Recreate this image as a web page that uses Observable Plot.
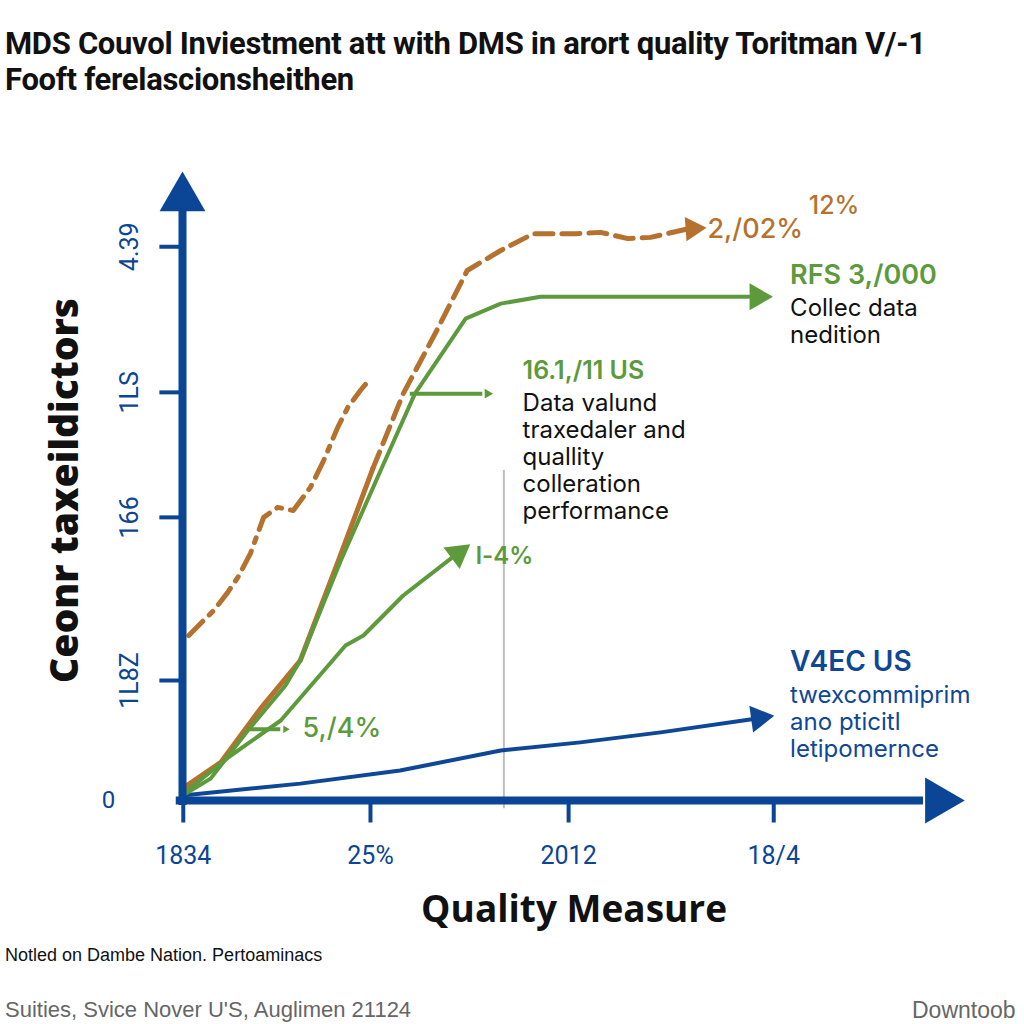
<!DOCTYPE html>
<html>
<head>
<meta charset="utf-8">
<script src="https://cdn.jsdelivr.net/npm/d3@7"></script>
<script src="https://cdn.jsdelivr.net/npm/@observablehq/plot@0.6"></script>
<style>
  body { margin: 0; background: #fff; width: 1024px; height: 1024px; position: relative; overflow: hidden; }
  #title { position: absolute; left: 5px; top: 26px; font: 700 31px Roboto, sans-serif; line-height: 36px; color: #111; white-space: nowrap; letter-spacing: -0.3px; }
  #chart { position: absolute; left: 0; top: 110px; }
  #note { position: absolute; left: 5px; top: 944px; font: 18px "Liberation Sans", Arial, sans-serif; line-height: 22px; color: #111; white-space: nowrap; }
  #src { position: absolute; left: 5px; top: 997px; font: 22px "Liberation Sans", Arial, sans-serif; line-height: 26px; color: #666; white-space: nowrap; }
  #dl { position: absolute; left: 912px; top: 997px; font: 23px "Liberation Sans", Arial, sans-serif; line-height: 26px; color: #666; white-space: nowrap; }
</style>
</head>
<body>
<div id="title">MDS Couvol Inviestment att with DMS in arort quality Toritman V/-1<br>Fooft ferelascionsheithen</div>
<div id="chart"></div>
<div id="note">Notled on Dambe Nation. Pertoaminacs</div>
<div id="src">Suities, Svice Nover U'S, Auglimen 21124</div>
<div id="dl">Downtoob</div>
<script>
// ---- data (x, y in chart units 0..100) ----
const blueX   = [0, 15.1, 27.9, 40.8, 51.0, 61.3, 73.0];
const blueY   = [0.8, 2.7, 4.8, 8.0, 9.3, 10.9, 13.0];

const greenAX = [0, 3.6, 8.7, 13.2, 15.1, 20.3, 25.4, 29.8, 36.3, 40.8, 45.9, 72.6];
const greenAY = [0.8, 3.5, 11.7, 18.4, 22.4, 38.4, 52.8, 65.1, 77.1, 79.5, 80.6, 80.6];

const orangeSolidX = [0, 4.9, 10.0, 15.1, 20.0, 24.4];
const orangeSolidY = [1.9, 6.1, 14.7, 22.4, 38.4, 53.1];
const orangeDashX  = [24.4, 28.3, 32.6, 36.5, 40.8, 45.0, 50.6, 53.6, 57.1, 60.0, 64.6];
const orangeDashY  = [53.1, 65.1, 75.2, 84.8, 88.0, 90.7, 90.7, 90.9, 89.9, 90.1, 91.4];

const orangeDotX = [0.8, 2.7, 4.0, 5.8, 7.1, 8.7, 10.4, 12.2, 14.2, 16.4, 18.1, 19.9, 21.2, 22.8, 24.1];
const orangeDotY = [26.4, 28.8, 30.4, 33.3, 35.7, 39.5, 45.3, 46.9, 46.4, 50.1, 54.4, 59.7, 62.9, 65.6, 67.5];

const greenDX = [0.1, 6.2, 12.6, 20.9, 23.2, 28.3, 34.6];
const greenDY = [1.1, 7.2, 12.8, 24.8, 26.4, 32.8, 38.9];

// pointer arrows
const pointerX1 = [29.2, 8.7];
const pointerX2 = [38.5, 12.6];
const pointerY  = [65.1, 11.4];

// vertical reference rule
const refX = 41.2, refY1 = -1.3, refY2 = 52.8;

// axis ticks
const xTickVals = [0.1, 24.1, 49.5, 75.8];
const xTickLabels = ["1834", "25%", "2012", "18/4"];
const yTickVals = [88.6, 65.3, 45.3, 19.2];
const yTickLabels = ["4.39", "1LS", "166", "1L8Z"];

// annotations
const annX = [80.3, 67.3, 77.9, 43.6, 37.6, 15.4, 77.9];
const annY = [95.2, 91.4, 84.0, 68.8, 39.0, 11.5, 22.1];
const annText = ["12%", "2,/02%", "RFS 3,/000", "16.1,/11 US", "l-4%", "5,/4%", "V4EC US"];
const annColor = ["orange", "orange", "green", "green", "green", "green", "blue"];
const annBold = [false, false, true, true, true, false, true];
const annSize = [25, 27, 27, 25, 24, 27, 28];

const noteX = [77.9, 43.6, 77.9];
const noteY = [80.6, 65.4, 18.7];
const noteText = ["Collec data\nnedition", "Data valund\ntraxedaler and\nquallity\ncolleration\nperformance", "twexcommiprim\nano pticitl\nletipomernce"];
const noteColor = ["#111", "#111", "blue"];

const C = { blue: "#0f4797", green: "#5c9a3c", orange: "#b5722f", axis: "#0b4595" };
const col = k => C[k] || k;

const pts = (xs, ys) => xs.map((x, i) => ({x, y: ys[i]}));
const ann = annText.map((t, i) => ({t, x: annX[i], y: annY[i], c: col(annColor[i]), b: annBold[i], s: annSize[i]}));

const plot = Plot.plot({
  width: 1024,
  height: 820,
  marginLeft: 182,
  marginRight: 62,
  marginTop: 65,
  marginBottom: 130,
  x: {domain: [0, 100], axis: null},
  y: {domain: [0, 100], axis: null},
  style: {fontFamily: "Roboto, sans-serif", background: "#fff", overflow: "visible"},
  marks: [
    // reference rule
    Plot.ruleX([refX], {y1: refY1, y2: refY2, stroke: "#bdbdbd", strokeWidth: 2}),
    // lines
    Plot.line(pts(blueX, blueY), {x: "x", y: "y", stroke: C.blue, strokeWidth: 4}),
    Plot.dot([{x: blueX[blueX.length - 1] + 0.9, y: blueY[blueY.length - 1] + 0.2}], {x: "x", y: "y", symbol: "triangle", r: 10, fill: C.blue, rotate: 82}),
    Plot.line(pts(orangeSolidX, orangeSolidY), {x: "x", y: "y", stroke: C.orange, strokeWidth: 5}),
    Plot.line(pts(orangeDashX, orangeDashY), {x: "x", y: "y", stroke: C.orange, strokeWidth: 5, strokeDasharray: "18,9"}),
    Plot.dot([{x: 65.4, y: 91.5}], {x: "x", y: "y", symbol: "triangle", r: 9, fill: C.orange, rotate: 86}),
    Plot.line(pts(orangeDotX, orangeDotY), {x: "x", y: "y", stroke: C.orange, strokeWidth: 5, strokeDasharray: "20,9,5,9"}),
    Plot.line(pts(greenAX, greenAY), {x: "x", y: "y", stroke: C.green, strokeWidth: 4}),
    Plot.dot([{x: 73.7, y: 80.6}], {x: "x", y: "y", symbol: "triangle", r: 10, fill: C.green, rotate: 90}),
    Plot.line(pts(greenDX, greenDY), {x: "x", y: "y", stroke: C.green, strokeWidth: 4}),
    Plot.dot([{x: 35.3, y: 39.5}], {x: "x", y: "y", symbol: "triangle", r: 10, fill: C.green, rotate: 53}),
    // pointer arrows
    Plot.ruleY(pointerY.map((y, i) => ({y, x1: pointerX1[i], x2: pointerX2[i]})), {y: "y", x1: "x1", x2: "x2", stroke: C.green, strokeWidth: 4}),
    Plot.dot(pointerY.map((y, i) => ({y, x: pointerX2[i] + 0.6, r: i === 0 ? 10 : 6})), {x: "x", y: "y", r: "r", symbol: "triangle", fill: C.green, rotate: 90}),
    // axes
    Plot.ruleY([0], {x1: -0.8, x2: 95, stroke: C.axis, strokeWidth: 8}),
    Plot.dot([{x: 96.9, y: 0}], {x: "x", y: "y", symbol: "triangle", r: 17, fill: C.axis, rotate: 90}),
    Plot.ruleX([0], {y1: -0.8, y2: 95, stroke: C.axis, strokeWidth: 8}),
    Plot.dot([{x: 0, y: 96.4}], {x: "x", y: "y", symbol: "triangle", r: 17, fill: C.axis, rotate: 0}),
    Plot.ruleX(xTickVals, {y1: 0, y2: -3.6, stroke: C.axis, strokeWidth: 4}),
    Plot.ruleY(yTickVals, {x1: -2.9, x2: 0, stroke: C.axis, strokeWidth: 4}),
    Plot.text(xTickVals, {x: d => d, y: -8.8, text: (d, i) => xTickLabels[i], fill: C.axis, fontSize: 25}),
    Plot.text(yTickVals, {x: -6.7, y: d => d, text: (d, i) => yTickLabels[i], fill: C.axis, fontSize: 25, rotate: -90}),
    Plot.text([0], {x: -9.5, y: 0, text: ["0"], fill: C.axis, fontSize: 24}),
    // axis titles
    Plot.text(["Ceonr taxeildictors"], {x: -15, y: 49.6, text: d => d, rotate: -90, fontSize: 39, fontWeight: 800, fontFamily: "'Open Sans', sans-serif", fill: "#111"}),
    Plot.text(["Quality Measure"], {x: 50.2, y: -17.6, text: d => d, fontSize: 37, fontWeight: 700, fontFamily: "'Open Sans', sans-serif", fill: "#111"}),
    // annotations
    Plot.text(ann.filter(d => d.b), {x: "x", y: "y", text: "t", fill: d => d.c, textAnchor: "start", fontSize: d => d.s, fontWeight: 600, fontFamily: "Inter, sans-serif"}),
    Plot.text(ann.filter(d => !d.b), {x: "x", y: "y", text: "t", fill: d => d.c, textAnchor: "start", fontSize: d => d.s, fontWeight: 500, fontFamily: "Inter, sans-serif"}),
    Plot.text(noteText.map((t, i) => ({t, x: noteX[i], y: noteY[i], c: col(noteColor[i])})), {x: "x", y: "y", text: "t", fill: d => d.c, textAnchor: "start", lineAnchor: "top", fontSize: 24, lineHeight: 1.125, fontFamily: "Inter, sans-serif"})
  ]
});
document.getElementById("chart").appendChild(plot);
</script>
</body>
</html>
